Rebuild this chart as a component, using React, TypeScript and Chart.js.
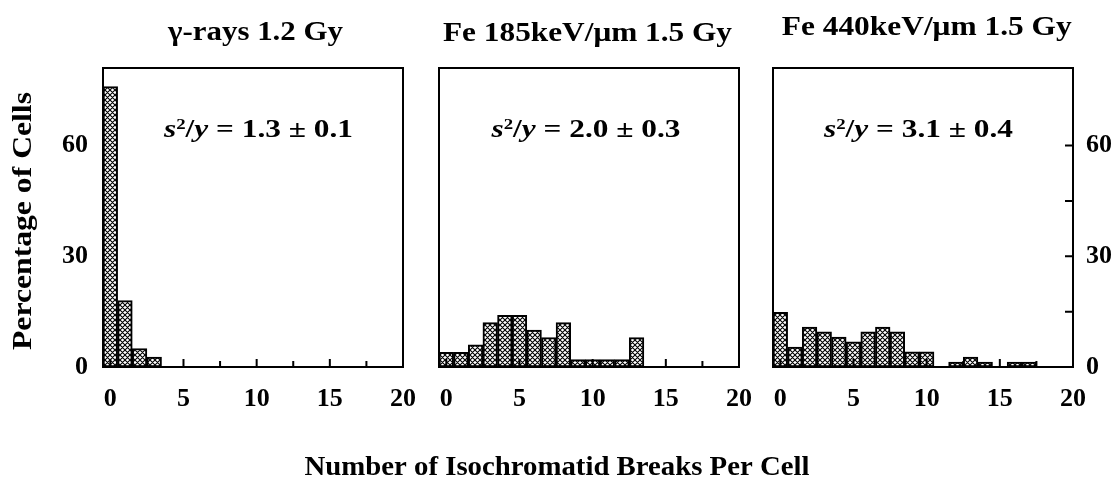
import React, { useEffect, useRef } from "react";
import { Chart, registerables } from "chart.js";

Chart.register(...registerables);

// ---------- data ----------
const panelTitles = ["γ-rays 1.2 Gy", "Fe 185keV/μm 1.5 Gy", "Fe 440keV/μm 1.5 Gy"];
const ratioTexts = ["1.3 ± 0.1", "2.0 ± 0.3", "3.1 ± 0.4"];
// percentage of cells with 0,1,2,... isochromatid breaks
const gammaValues = [76, 18, 5, 2.7];
const fe185Values = [4, 4, 6, 12, 14, 14, 10, 8, 12, 2, 2, 2, 2, 8];
const fe440Values = [14.8, 5.4, 10.8, 9.5, 8.1, 6.8, 9.5, 10.8, 9.5, 4.1, 4.1, 0, 1.35, 2.7, 1.35, 0, 1.35, 1.35];
const xTickValues = [0, 2.5, 5, 7.5, 10, 12.5, 15, 17.5, 20];
const yTickValues = [0, 30, 60];
const yMarkValues = [15, 30, 45, 60];
const xTitle = "Number of Isochromatid Breaks Per Cell";
const yTitle = "Percentage of Cells";
const xMin = -0.5;
const xMax = 20;
const yMax = 81;

const FONT = '"Liberation Serif", "Times New Roman", Times, serif';

type Seg = { text: string; font: string; dy?: number };

function drawFitted(ctx: CanvasRenderingContext2D, segs: Seg[], cx: number, baseline: number, width: number) {
  let total = 0;
  const widths = segs.map((s) => {
    ctx.font = s.font;
    const w = ctx.measureText(s.text).width;
    total += w;
    return w;
  });
  const sx = width / total;
  ctx.save();
  ctx.translate(cx - width / 2, baseline);
  ctx.scale(sx, 1);
  ctx.textBaseline = "alphabetic";
  ctx.textAlign = "left";
  ctx.fillStyle = "#000";
  let x = 0;
  segs.forEach((s, i) => {
    ctx.font = s.font;
    ctx.fillText(s.text, x, s.dy || 0);
    x += widths[i];
  });
  ctx.restore();
}

function makePattern(): CanvasPattern | string {
  const c = document.createElement("canvas");
  const s = 5;
  c.width = s;
  c.height = s;
  const g = c.getContext("2d");
  if (!g) return "#888";
  g.fillStyle = "#fff";
  g.fillRect(0, 0, s, s);
  g.strokeStyle = "#000";
  g.lineWidth = 1.1;
  g.beginPath();
  g.moveTo(0, 0);
  g.lineTo(s, s);
  g.moveTo(0, s);
  g.lineTo(s, 0);
  g.moveTo(-1, 1);
  g.lineTo(1, -1);
  g.moveTo(s - 1, s + 1);
  g.lineTo(s + 1, s - 1);
  g.moveTo(-1, s - 1);
  g.lineTo(1, s + 1);
  g.moveTo(s - 1, -1);
  g.lineTo(s + 1, 1);
  g.stroke();
  const p = g.createPattern(c, "repeat");
  return p || "#888";
}

type PanelCfg = {
  values: number[];
  padLeft: number;
  padRight: number;
  yPos: "left" | "right" | "none";
  title: string;
  titleCx: number;
  titleBase: number;
  titleW: number;
  ratio: string;
  ratioCx: number;
  axisTitles: boolean;
};

const panels: PanelCfg[] = [
  { values: gammaValues, padLeft: 43, padRight: 712, yPos: "left", title: panelTitles[0], titleCx: 255.5, titleBase: 40, titleW: 175, ratio: ratioTexts[0], ratioCx: 258.5, axisTitles: true },
  { values: fe185Values, padLeft: 439, padRight: 376, yPos: "none", title: panelTitles[1], titleCx: 587.5, titleBase: 41, titleW: 289, ratio: ratioTexts[1], ratioCx: 586, axisTitles: false },
  { values: fe440Values, padLeft: 773, padRight: 2, yPos: "right", title: panelTitles[2], titleCx: 926.7, titleBase: 35, titleW: 290, ratio: ratioTexts[2], ratioCx: 918.5, axisTitles: false },
];

function Panel({ cfg }: { cfg: PanelCfg }) {
  const ref = useRef<HTMLCanvasElement | null>(null);
  useEffect(() => {
    const canvas = ref.current;
    if (!canvas) return;
    const pattern = makePattern();

    const frameTicks = {
      id: "frameTicks",
      afterDatasetsDraw(chart: any) {
        const { ctx, chartArea: a, scales } = chart;
        ctx.save();
        ctx.strokeStyle = "#000";
        ctx.lineWidth = 2;
        ctx.strokeRect(a.left, a.top, a.right - a.left, a.bottom - a.top);
        ctx.beginPath();
        for (const v of xTickValues) {
          const px = scales.x.getPixelForValue(v);
          const len = v % 5 === 0 ? 8 : 6;
          ctx.moveTo(px, a.bottom);
          ctx.lineTo(px, a.bottom - len);
        }
        if (cfg.yPos === "right") {
          for (const v of yMarkValues) {
            const py = scales.y.getPixelForValue(v);
            ctx.moveTo(a.right, py);
            ctx.lineTo(a.right - 8, py);
          }
        }
        ctx.stroke();
        ctx.restore();
      },
    };

    const texts = {
      id: "texts",
      afterDraw(chart: any) {
        const ctx: CanvasRenderingContext2D = chart.ctx;
        drawFitted(ctx, [{ text: cfg.title, font: `bold 27px ${FONT}` }], cfg.titleCx, cfg.titleBase, cfg.titleW);
        drawFitted(
          ctx,
          [
            { text: "s", font: `italic bold 25px ${FONT}` },
            { text: "2", font: `bold 15px ${FONT}`, dy: -8 },
            { text: "/", font: `bold 25px ${FONT}` },
            { text: "y", font: `italic bold 25px ${FONT}` },
            { text: " = " + cfg.ratio, font: `bold 25px ${FONT}` },
          ],
          cfg.ratioCx,
          137,
          189
        );
        if (cfg.axisTitles) {
          drawFitted(ctx, [{ text: xTitle, font: `bold 28px ${FONT}` }], 557, 475, 505);
          ctx.save();
          ctx.translate(31, 221);
          ctx.rotate(-Math.PI / 2);
          drawFitted(ctx, [{ text: yTitle, font: `bold 27px ${FONT}` }], 0, 0, 258);
          ctx.restore();
        }
      },
    };

    const data = cfg.values.map((v, i) => ({ x: i, y: v }));

    const chart = new Chart(canvas, {
      type: "bar",
      data: {
        datasets: [
          {
            data: data as any,
            backgroundColor: pattern as any,
            borderColor: "#000",
            borderWidth: 2,
            borderSkipped: false,
            barPercentage: 1,
            categoryPercentage: 1,
          },
        ],
      },
      options: {
        animation: false,
        responsive: false,
        devicePixelRatio: 1,
        layout: { padding: { left: cfg.padLeft, right: cfg.padRight, top: 68, bottom: 0 } },
        plugins: { legend: { display: false }, tooltip: { enabled: false }, title: { display: false } },
        scales: {
          x: {
            type: "linear",
            min: xMin,
            max: xMax,
            offset: false,
            grid: { display: false, drawTicks: false },
            border: { display: false },
            afterBuildTicks: (s: any) => {
              s.ticks = xTickValues.map((v) => ({ value: v }));
            },
            afterFit: (s: any) => {
              s.height = 113;
            },
            ticks: {
              padding: 17,
              autoSkip: false,
              maxRotation: 0,
              color: "#000",
              font: { family: FONT, size: 26, weight: "bold" },
              callback: (v: any) => (Number(v) % 5 === 0 ? String(v) : ""),
            },
          },
          y: {
            display: cfg.yPos !== "none",
            position: cfg.yPos === "right" ? "right" : "left",
            min: 0,
            max: yMax,
            grid: { display: false, drawTicks: false },
            border: { display: false },
            afterBuildTicks: (s: any) => {
              s.ticks = yTickValues.map((v) => ({ value: v }));
            },
            afterFit: (s: any) => {
              s.width = cfg.yPos === "right" ? 40 : cfg.yPos === "left" ? 60 : 0;
            },
            ticks: {
              padding: cfg.yPos === "right" ? 13 : 15,
              color: "#000",
              font: { family: FONT, size: 26, weight: "bold" },
            },
          },
        },
      },
      plugins: [frameTicks, texts],
    });
    return () => chart.destroy();
  }, [cfg]);
  return (
    <canvas
      ref={ref}
      width={1115}
      height={480}
      style={{ position: "absolute", left: 0, top: 0, width: 1115, height: 480 }}
    />
  );
}

export default function App() {
  return (
    <div style={{ position: "absolute", left: 0, top: 0, width: 1115, height: 480, background: "#fff" }}>
      {panels.map((p, i) => (
        <Panel key={i} cfg={p} />
      ))}
    </div>
  );
}
